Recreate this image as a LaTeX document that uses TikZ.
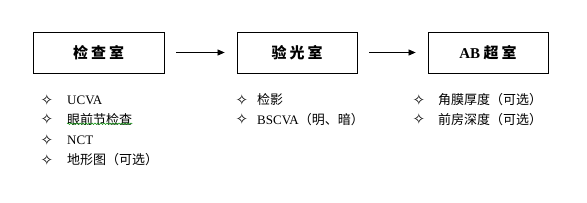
\documentclass[tikz,border=0pt]{standalone}
\usepackage{fontspec}
\setmainfont{Liberation Serif}
\newfontfamily\cjk{Noto Sans CJK SC}
\newfontfamily\symf{DejaVu Sans}
\usetikzlibrary{arrows.meta,decorations.pathmorphing}
\begin{document}
\begin{tikzpicture}[x=1pt,y=-1pt,
  room/.style={draw,line width=0.8pt,minimum width=#1,minimum height=41pt,inner sep=0pt,font=\cjk\bfseries\fontsize{15}{15}\selectfont},
  flow/.style={-{Triangle[length=7pt,width=6pt]},line width=0.7pt,shorten <=12pt,shorten >=12pt},
  bul/.style={inner sep=0pt,font=\symf\fontsize{15}{15}\selectfont},
  item/.style={anchor=west,inner sep=0pt,font=\fontsize{13}{13}\selectfont}]
\useasboundingbox (0,0) rectangle (587,202);
\node[room=131pt] (r1) at (98.5,52.5) {检\hspace{3pt}查\hspace{3pt}室};
\node[room=120pt] (r2) at (297,52.5) {验\hspace{3pt}光\hspace{3pt}室};
\node[room=120pt] (r3) at (488,52.5) {{\fontspec{Liberation Serif}\bfseries AB} 超\hspace{3pt}室};
\draw[flow] (r1.east) -- (r2.west);
\draw[flow] (r2.east) -- (r3.west);
% list 1
\node[bul] (b11) at (47,100) {✧};
\node[item] (t11) at (67,100) {UCVA};
\node[bul] (b12) at (47,119.5) {✧};
\node[item] (t12) at (67,119.5) {\cjk 眼前节检查};
\node[bul] (b13) at (47,140) {✧};
\node[item] (t13) at (67,140) {NCT};
\node[bul] (b14) at (47,160) {✧};
\node[item] (t14) at (67,160) {\cjk 地形图（可选）};
\draw[green!55!black,line width=0.5pt,decorate,decoration={snake,amplitude=0.8pt,segment length=3pt}] ([yshift=2pt]t12.south west) -- ([yshift=2pt]t12.south east);
% list 2
\node[bul] (b21) at (242,100) {✧};
\node[item] (t21) at (257,100) {\cjk 检影};
\node[bul] (b22) at (242,119.5) {✧};
\node[item] (t22) at (257,119.5) {BSCVA\cjk（明、暗）};
% list 3
\node[bul] (b31) at (419,100) {✧};
\node[item] (t31) at (438,100) {\cjk 角膜厚度（可选）};
\node[bul] (b32) at (419,119.5) {✧};
\node[item] (t32) at (438,119.5) {\cjk 前房深度（可选）};
\end{tikzpicture}
\end{document}
